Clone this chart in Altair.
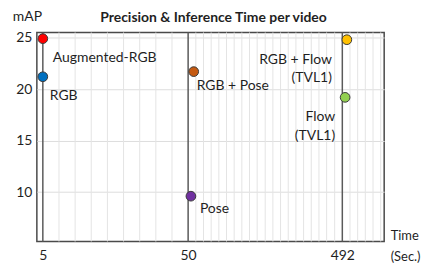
import altair as alt
import pandas as pd

# ---- data ----
methods = ["Augmented-RGB", "RGB", "RGB + Pose", "Pose", "RGB + Flow", "Flow"]
labels = ["Augmented-RGB", "RGB", "RGB + Pose", "Pose", "RGB + Flow\n(TVL1)", "Flow\n(TVL1)"]
times = [5, 5, 66, 58, 505, 500]
maps = [24.9, 21.2, 21.7, 9.6, 24.8, 19.2]
palette = ["#FF0000", "#0070C0", "#C55A11", "#7030A0", "#FFC000", "#92D050"]

major_times = [5, 50, 492]
minor_times = [10, 15, 20, 25, 30, 35, 40, 45,
               72, 94, 116, 138, 160, 182, 204, 226, 248, 271, 293, 315,
               337, 359, 381, 403, 425, 447, 470,
               514, 536, 558, 580, 602]
y_ticks = [10, 15, 20, 25]

df = pd.DataFrame({"method": methods, "label": labels, "time": times, "mAP": maps})

FONT = "Lato"
TXT = "#1f1f1f"

xscale = alt.Scale(domain=[3.15, 50, 612], range=[0, 152, 349], nice=False, zero=False)
yscale = alt.Scale(domain=[5.2, 25.5], nice=False, zero=False)

x_axis = alt.Axis(values=major_times, title=["Time", "(Sec.)"], grid=False, ticks=False,
                  domain=False, labelFont=FONT, labelFontSize=14, labelColor=TXT,
                  labelPadding=7, labelFlush=False,
                  titleFont=FONT, titleFontSize=13, titleFontWeight="normal",
                  titleColor=TXT, titleAngle=0, titleAlign="left",
                  titleBaseline="alphabetic", titleX=355, titleY=-2, titleLineHeight=21)
y_axis = alt.Axis(values=y_ticks, title="mAP", grid=True, gridColor="#DEDEDE",
                  ticks=False, domain=False, labelFont=FONT, labelFontSize=14,
                  labelColor=TXT, labelPadding=5,
                  titleFont=FONT, titleFontSize=14, titleFontWeight="normal",
                  titleColor=TXT, titleAngle=0, titleAlign="center",
                  titleBaseline="middle", titleX=-10, titleY=-16)

minor = alt.Chart(pd.DataFrame({"t": minor_times})).mark_rule(
    color="#E4E4E4", strokeWidth=1
).encode(x=alt.X("t:Q", scale=xscale, axis=x_axis))

major = alt.Chart(pd.DataFrame({"t": major_times})).mark_rule(
    color="#5A5A5A", strokeWidth=1.5
).encode(x=alt.X("t:Q", scale=xscale))

base = alt.Chart(df)

points = base.mark_circle(size=95, stroke="#3a3a3a", strokeWidth=1, opacity=1).encode(
    x=alt.X("time:Q", scale=xscale),
    y=alt.Y("mAP:Q", scale=yscale, axis=y_axis),
    fill=alt.Fill("method:N", scale=alt.Scale(domain=methods, range=palette), legend=None),
)

offsets = {
    "Augmented-RGB": (10, 19, "left"),
    "RGB": (7, 19, "left"),
    "RGB + Pose": (3, 14, "left"),
    "Pose": (9, 13, "left"),
    "RGB + Flow": (-15, 20, "right"),
    "Flow": (-10, 20, "right"),
}

text_layers = []
for m, (dx, dy, al) in offsets.items():
    text_layers.append(
        base.transform_filter(alt.datum.method == m).mark_text(
            font=FONT, fontSize=14, color=TXT, align=al, baseline="middle",
            dx=dx, dy=dy, lineBreak="\n", lineHeight=19
        ).encode(
            x=alt.X("time:Q", scale=xscale),
            y=alt.Y("mAP:Q", scale=yscale),
            text="label:N",
        )
    )

chart = alt.layer(minor, major, points, *text_layers).properties(
    width=349, height=210,
    title=alt.TitleParams("Precision & Inference Time per video", font=FONT, fontSize=14,
                          fontWeight="bold", color=TXT, anchor="middle", frame="group",
                          baseline="middle", offset=-22, dx=3),
    autosize=alt.AutoSizeParams(type="none"),
    padding={"left": 29, "top": 24, "right": 37, "bottom": 22},
).configure_view(stroke="#4a4a4a", strokeWidth=1.5)

chart.save("out.html", embed_options={"renderer": "svg", "actions": False})
